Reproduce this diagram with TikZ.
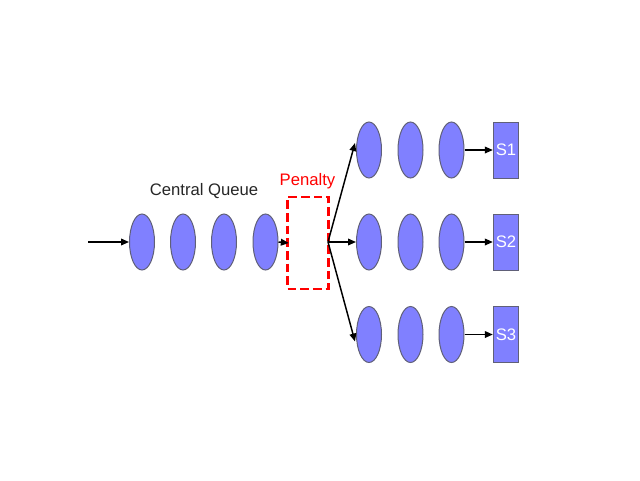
\documentclass[tikz,border=0pt]{standalone}
\usepackage{fontspec}
\setmainfont{Liberation Sans}
\usetikzlibrary{shapes.geometric,arrows.meta}
\definecolor{qfill}{HTML}{8080FF}
\definecolor{qedge}{HTML}{606078}
\definecolor{pred}{HTML}{FF0000}
\definecolor{tgray}{HTML}{262626}
\tikzset{
  job/.style={ellipse,draw=qedge,fill=qfill,line width=0.75pt,inner sep=0pt,minimum width=18.75pt,minimum height=42pt},
  server/.style={rectangle,draw=qedge,fill=qfill,line width=0.75pt,inner sep=0pt,minimum width=19pt,minimum height=42pt,text=white,font=\fontsize{12.5}{14}\selectfont},
  flow/.style={-{Triangle[length=6pt,width=5pt]},line width=1.1pt,black},
  penbox/.style={draw=pred,line width=2pt,dash pattern=on 6.5pt off 3pt,minimum width=30.75pt,minimum height=69pt,inner sep=0pt},
  lbl/.style={font=\fontsize{12.5}{14}\selectfont,inner sep=0pt}
}
\begin{document}
\begin{tikzpicture}[x=0.75pt,y=-0.75pt]
\useasboundingbox (0,0) rectangle (640,480);
% central queue
\coordinate (in) at (88,242);
\node[job] (c1) at (142,242) {};
\node[job] (c2) at (183,242) {};
\node[job] (c3) at (224,242) {};
\node[job] (c4) at (265.5,242) {};
\node[lbl,text=tgray] (cq) at (204,191) {Central Queue};
% penalty
\node[penbox] (pen) at (308,243) {};
\node[lbl,text=pred] (penl) at (307.5,181.5) {Penalty};
\coordinate (split) at (328,242);
% queues
\foreach \r/\y in {1/150,2/242,3/334.5}{
  \node[job] (q\r a) at (369,\y) {};
  \node[job] (q\r b) at (410.5,\y) {};
  \node[job] (q\r c) at (451.5,\y) {};
  \node[server] (s\r) at (506,\y) {S\r};
}
% connectors
\draw[flow] (in) -- (c1.west);
\draw[flow] (c4.east) -- ([xshift=2pt]pen.west);
\draw[flow] (split) -- ([shift={(-1,-7)}]q1a.west);
\draw[flow] (split) -- (q2a.west);
\draw[flow] (split) -- ([shift={(-1,7)}]q3a.west);
\draw[flow] (q1c.east) -- (s1.west);
\draw[flow] (q2c.east) -- (s2.west);
\draw[flow] (q3c.east) -- (s3.west);
\end{tikzpicture}
\end{document}
